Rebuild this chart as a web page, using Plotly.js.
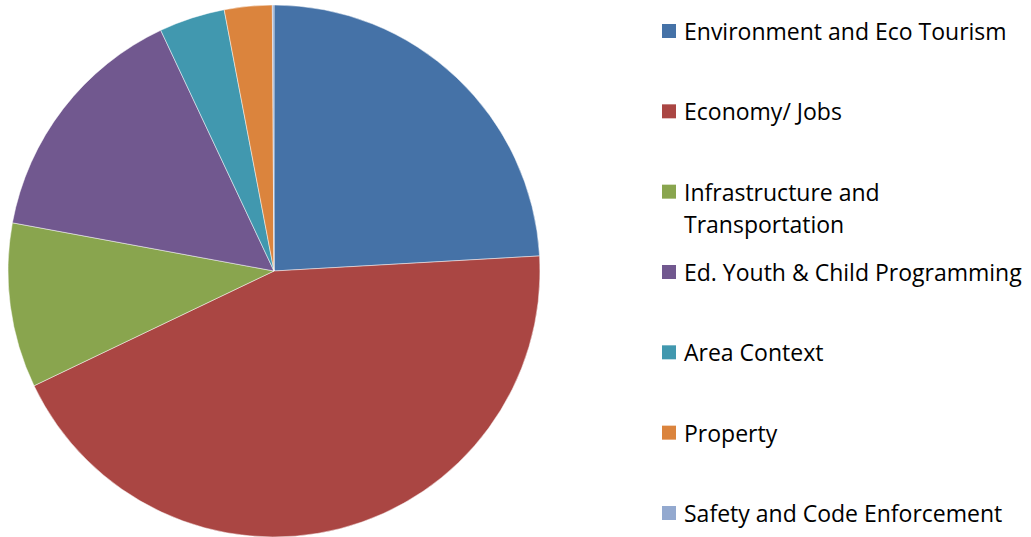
<!DOCTYPE html>
<html>
<head>
<meta charset="utf-8">
<script src="https://cdn.plot.ly/plotly-3.0.1.min.js"></script>
<style>html,body{margin:0;padding:0;background:#fff;}#chart{width:1031px;height:537px;}</style>
</head>
<body>
<div id="chart"></div>
<script>
// Data
const categories = [
  "Environment and Eco Tourism",
  "Economy/ Jobs",
  "Infrastructure and Transportation",
  "Ed. Youth & Child Programming",
  "Area Context",
  "Property",
  "Safety and Code Enforcement"
];
const legendLines = [
  ["Environment and Eco Tourism"],
  ["Economy/ Jobs"],
  ["Infrastructure and", "Transportation"],
  ["Ed. Youth & Child Programming"],
  ["Area Context"],
  ["Property"],
  ["Safety and Code Enforcement"]
];
const shares = [24.1, 43.8, 10.0, 15.1, 4.0, 2.9, 0.1];
const colors = ["#4572A7", "#AA4643", "#89A54E", "#71588F", "#4198AF", "#DB843D", "#93A9CF"];

const W = 1031, H = 537;
const fontFamily = "Open Sans, Noto Sans, sans-serif";
const fontSize = 23;

const trace = {
  type: "pie",
  labels: categories,
  values: shares,
  sort: false,
  direction: "clockwise",
  rotation: 0,
  textinfo: "none",
  hoverinfo: "label+percent",
  marker: { colors: colors, line: { color: "rgba(255,255,255,0.6)", width: 0.8 } },
  domain: { x: [8 / W, 540 / W], y: [0, 1 - 5 / H] },
  showlegend: false
};

// Legend drawn with annotations + shapes
const annotations = [];
const shapes = [];
const firstY = 31, step = 80.33, lineGap = 32;
const markerX0 = 662, markerSize = 14, textX = 682;
legendLines.forEach((lines, i) => {
  const yc = firstY + i * step;
  shapes.push({
    type: "rect", xref: "paper", yref: "paper",
    x0: markerX0 / W, x1: (markerX0 + markerSize) / W,
    y0: 1 - (yc + markerSize / 2) / H, y1: 1 - (yc - markerSize / 2) / H,
    fillcolor: colors[i], line: { width: 0 }
  });
  lines.forEach((t, j) => {
    annotations.push({
      xref: "paper", yref: "paper",
      x: textX / W, y: 1 - (yc + j * lineGap) / H,
      xanchor: "left", yanchor: "middle",
      text: t, showarrow: false,
      font: { family: fontFamily, size: fontSize, color: "#000" }
    });
  });
});

const layout = {
  width: W, height: H,
  margin: { l: 0, r: 0, t: 0, b: 0 },
  paper_bgcolor: "#fff",
  showlegend: false,
  annotations: annotations,
  shapes: shapes
};

Plotly.newPlot("chart", [trace], layout, { displayModeBar: false, staticPlot: true });
</script>
</body>
</html>
